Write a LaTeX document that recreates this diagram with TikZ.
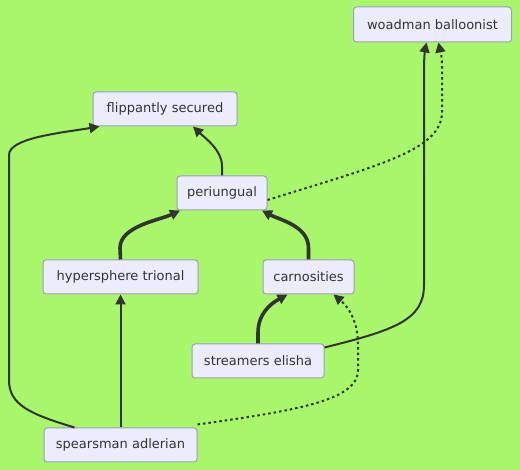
\documentclass[tikz,border=0pt]{standalone}
\usepackage{fontspec}
\setmainfont{DejaVu Sans}
\usetikzlibrary{arrows.meta}
\definecolor{bg}{HTML}{A8F76A}
\definecolor{nfill}{HTML}{ECECFF}
\definecolor{nstroke}{HTML}{9E9BC0}
\definecolor{ink}{HTML}{333333}
\tikzset{
  box/.style={draw=nstroke, fill=nfill, rounded corners=3pt, line width=1pt,
    inner sep=0pt, text=ink, font=\fontsize{13}{15}\selectfont},
  edge/.style={draw=ink, line width=2pt, -{Triangle[length=10pt,width=10pt]}},
  thickedge/.style={edge, line width=3.6pt},
  dotedge/.style={edge, dash pattern=on 2.5pt off 3pt},
}
\begin{document}
\begin{tikzpicture}[x=1pt,y=-1pt]
\useasboundingbox[fill=bg] (0,0) rectangle (520,470);
\node[box, minimum width=158pt, minimum height=35pt] (wo) at (432.5,24.5) {woadman balloonist};
\node[box, minimum width=144pt, minimum height=34pt] (fl) at (165,109) {flippantly secured};
\node[box, minimum width=90pt, minimum height=34pt] (pe) at (222,193) {periungual};
\node[box, minimum width=155pt, minimum height=34pt] (hy) at (120.5,277) {hypersphere trional};
\node[box, minimum width=91pt, minimum height=34pt] (ca) at (308.5,277) {carnosities};
\node[box, minimum width=132pt, minimum height=34pt] (st) at (258,361) {streamers elisha};
\node[box, minimum width=153pt, minimum height=34pt] (sp) at (120.5,445) {spearsman adlerian};

% spearsman -> flippantly
\draw[edge] ([xshift=31pt]sp.north west) .. controls (30,414) and (9,405) .. (9,380)
  -- (9,155) .. controls (9,138) and (60,133) .. ([xshift=7pt]fl.south west);
% spearsman -> hypersphere
\draw[edge] (sp.north) -- (hy.south);
% spearsman -> carnosities dotted
\draw[dotedge] ([yshift=3pt]sp.north east) .. controls (300,410) and (358,400) .. (358,370)
  -- (358,345) .. controls (358,318) and (346,305) .. ([xshift=25pt]ca.south);
% streamers -> carnosities
\draw[thickedge] (st.north) -- (258,333) .. controls (258,314) and (270,304) .. ([xshift=-21pt]ca.south);
% streamers -> woadman
\draw[edge] ([yshift=-4pt]st.north east) .. controls (395,330) and (424,320) .. (424,285)
  -- (424,70) .. controls (424,58) and (425,50) .. ([xshift=-6pt]wo.south);
% hypersphere -> periungual
\draw[thickedge] (hy.north) -- (120,248) .. controls (120,226) and (160,220) .. ([xshift=-42pt]pe.south);
% carnosities -> periungual
\draw[thickedge] (ca.north) -- (308.5,248) .. controls (308.5,226) and (280,220) .. ([xshift=40pt]pe.south);
% periungual -> flippantly
\draw[edge] (pe.north) -- (222,166) .. controls (222,150) and (205,138) .. ([xshift=28pt]fl.south);
% periungual -> woadman dotted
\draw[dotedge] ([yshift=-7pt]pe.east) .. controls (380,165) and (442,150) .. (442,112)
  -- (442,65) .. controls (442,55) and (440,50) .. ([xshift=6pt]wo.south);
\end{tikzpicture}
\end{document}
